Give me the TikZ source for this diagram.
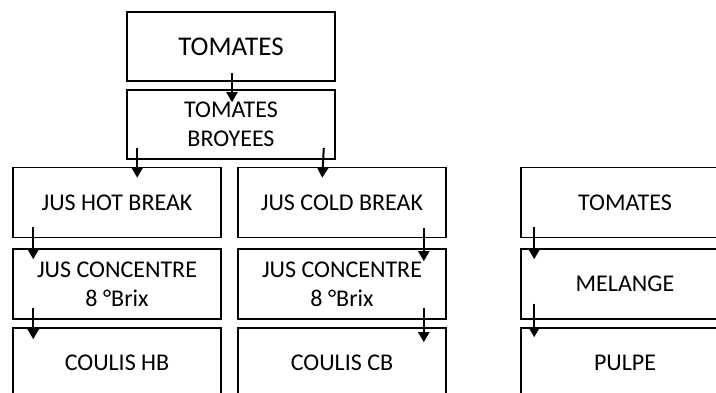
\documentclass[tikz,border=0pt]{standalone}
\usepackage{fontspec}
\setmainfont{Carlito}
\usetikzlibrary{arrows.meta,positioning,calc}

\begin{document}
\begin{tikzpicture}[
    x=1pt, y=1pt,
    procbox/.style={rectangle, draw=black, line width=1.6pt,
                    minimum width=208pt, minimum height=70pt,
                    font=\fontsize{24}{29}\selectfont, align=center,
                    inner sep=0pt},
    arr/.style={-{Triangle[length=10pt, width=11pt]}, line width=2pt, black}
]

\useasboundingbox (0,0) rectangle (716,392);
\clip (0,0) rectangle (716,392);

\node[procbox, minimum height=69pt, font=\fontsize{27}{32}\selectfont] (tom) at (231,345.5) {TOMATES};
\node[procbox, minimum height=69pt] (broy) at (231,267.5) {TOMATES\\BROYEES};

\node[procbox] (hb) at (117,189.5) {JUS HOT BREAK};
\node[procbox] (cb) at (342,189.5) {JUS COLD BREAK};
\node[procbox] (tom2) at (625,189.5) {TOMATES};

\node[procbox] (conchb) at (117,108) {JUS CONCENTRE\\8 °Brix};
\node[procbox] (conccb) at (342,108) {JUS CONCENTRE\\8 °Brix};
\node[procbox] (mel) at (625,108) {MELANGE};

\node[procbox] (coulishb) at (117,29) {COULIS HB};
\node[procbox] (couliscb) at (342,29) {COULIS CB};
\node[procbox] (pulpe) at (625,29) {PULPE};

\draw[arr] ($(tom.south)+(1,9)$) -- ($(broy.north)+(1,-13)$);
\draw[arr] ($(broy.south west)+(11,12)$) -- ($(hb.north west)+(125,-11)$);
\draw[arr] ($(broy.south east)+(-12,12)$) -- ($(cb.north west)+(85,-11)$);

\draw[arr] ($(hb.south west)+(21,11)$) -- ($(conchb.north west)+(21,-11)$);
\draw[arr] ($(cb.south east)+(-23,10)$) -- ($(conccb.north east)+(-23,-13)$);
\draw[arr] ($(tom2.south west)+(14,11)$) -- ($(mel.north west)+(14,-11)$);

\draw[arr] ($(conchb.south west)+(21,12)$) -- ($(coulishb.north west)+(21,-12)$);
\draw[arr] ($(conccb.south east)+(-23,12)$) -- ($(couliscb.north east)+(-23,-15)$);
\draw[arr] ($(mel.south west)+(14,16)$) -- ($(pulpe.north west)+(14,-10)$);

\end{tikzpicture}
\end{document}
